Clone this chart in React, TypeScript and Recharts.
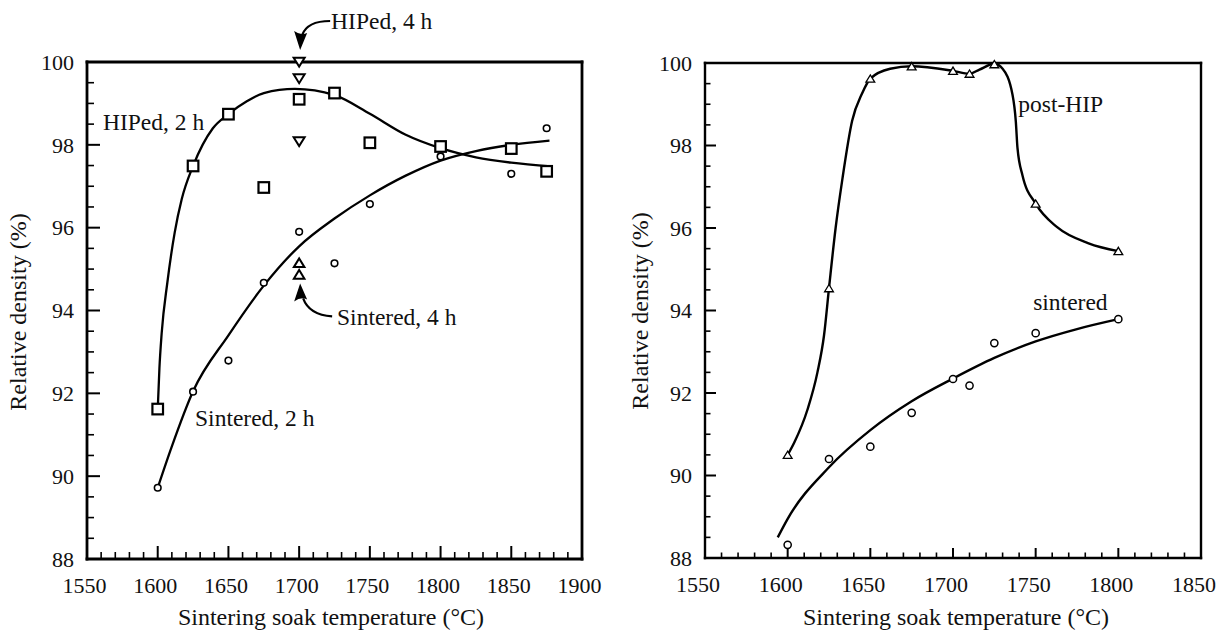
import React from "react";
import { ComposedChart, Line, Scatter, XAxis, YAxis, ReferenceDot } from "recharts";

// ---- left panel: HIPed vs sintered, 2 h and 4 h soaks ----
const leftTemps = [1600, 1625, 1650, 1675, 1700, 1725, 1750, 1800, 1850, 1875];
const hiped2h = [91.62, 97.49, 98.74, 96.97, 99.1, 99.25, 98.05, 97.96, 97.91, 97.36];
const sintered2h = [89.72, 92.04, 92.79, 94.67, 95.9, 95.14, 96.57, 97.72, 97.3, 98.4];
const hiped4hTemps = [1700, 1700, 1700];
const hiped4h = [100.0, 99.6, 98.08];
const sintered4hTemps = [1700, 1700];
const sintered4h = [95.15, 94.87];

// hand drawn guide curves
const hipedFitTemps = [1600, 1601.2, 1602.8, 1606.8, 1612, 1617, 1625, 1639, 1650, 1663, 1675, 1697, 1725, 1750, 1775, 1800, 1825, 1850, 1878];
const hipedFit = [91.6, 92.6, 93.45, 94.67, 95.88, 96.69, 97.49, 98.4, 98.74, 99.05, 99.25, 99.35, 99.2, 98.75, 98.25, 97.92, 97.7, 97.57, 97.48];
const sinteredFitTemps = [1600, 1610, 1625, 1650, 1675, 1700, 1725, 1750, 1775, 1800, 1825, 1850, 1877];
const sinteredFit = [89.72, 90.72, 92.05, 93.4, 94.6, 95.55, 96.22, 96.78, 97.25, 97.62, 97.85, 98.0, 98.1];

// ---- right panel: post-HIP vs sintered ----
const rightTemps = [1600, 1625, 1650, 1675, 1700, 1710, 1725, 1750, 1800];
const postHip = [90.5, 94.54, 99.62, 99.92, 99.81, 99.74, 99.97, 96.59, 95.44];
const sinteredR = [88.32, 90.4, 90.7, 91.52, 92.34, 92.18, 93.21, 93.45, 93.79];

const postHipFitTemps = [1600, 1604, 1612, 1618, 1622, 1625, 1629, 1633, 1639, 1645, 1650, 1662, 1675, 1700, 1710, 1716, 1725, 1730, 1736, 1738, 1739, 1742, 1750, 1763, 1782, 1800];
const postHipFit = [90.5, 90.8, 91.6, 92.5, 93.4, 94.54, 96.0, 97.16, 98.6, 99.26, 99.62, 99.86, 99.92, 99.81, 99.74, 99.84, 99.98, 99.86, 99.23, 98.58, 97.94, 97.28, 96.59, 96.02, 95.63, 95.44];
const sinteredRFitTemps = [1594, 1600, 1625, 1650, 1675, 1700, 1725, 1750, 1775, 1800];
const sinteredRFit = [88.5, 88.95, 90.2, 91.1, 91.8, 92.35, 92.85, 93.25, 93.55, 93.79];

const leftXTicks = [1550, 1600, 1650, 1700, 1750, 1800, 1850, 1900];
const rightXTicks = [1550, 1600, 1650, 1700, 1750, 1800, 1850];
const yTicks = [88, 90, 92, 94, 96, 98, 100];

const FONT = "'Liberation Serif', 'Times New Roman', serif";
const INK = "#111";

type Pt = { t: number; d: number };
const zip = (ts: number[], ds: number[]): Pt[] => ts.map((t, i) => ({ t, d: ds[i] }));

// minor ticks between the labelled ones
const fill = (major: number[], step: number) => {
  const out: number[] = [];
  const lo = major[0];
  const hi = major[major.length - 1];
  const n = Math.round((hi - lo) / step);
  for (let i = 0; i <= n; i++) out.push(Math.round((lo + i * step) * 100) / 100);
  return out;
};

type Side = "bottom" | "top" | "left" | "right";

function axisTick(side: Side, majorStep: number, majorLen: number, minorLen: number, labelGap: number, shift: number) {
  return (props: any) => {
    const { x, y, payload } = props;
    const v = payload.value as number;
    const major = Math.abs(v / majorStep - Math.round(v / majorStep)) < 1e-6;
    const len = major ? majorLen : minorLen;
    let x2 = x;
    let y2 = y;
    if (side === "bottom") y2 = y - len;
    if (side === "top") y2 = y + len;
    if (side === "left") x2 = x + len;
    if (side === "right") x2 = x - len;
    return (
      <g>
        <line x1={x} y1={y} x2={x2} y2={y2} stroke="#000" strokeWidth={major ? 2 : 1.6} />
        {major && side === "bottom" && (
          <text x={x + shift} y={y + labelGap} textAnchor="middle" fontFamily={FONT} fontSize={22} fill={INK}>
            {v}
          </text>
        )}
        {major && side === "left" && (
          <text x={x - labelGap} y={y} dy="0.35em" textAnchor="end" fontFamily={FONT} fontSize={22} fill={INK}>
            {v}
          </text>
        )}
      </g>
    );
  };
}

const Square = (p: any) => (
  <rect x={p.cx - 5.3} y={p.cy - 5.3} width={10.6} height={10.6} fill="#fff" stroke="#000" strokeWidth={2.2} />
);
const Ring = (r: number, w: number) => (p: any) => (
  <circle cx={p.cx} cy={p.cy} r={r} fill="#fff" stroke="#000" strokeWidth={w} />
);
const TriDown = (p: any) => (
  <path d={`M${p.cx - 5.5},${p.cy - 4.2}L${p.cx + 5.5},${p.cy - 4.2}L${p.cx},${p.cy + 4.6}Z`} fill="#fff" stroke="#000" strokeWidth={2} />
);
const TriUp = (s: number, w: number) => (p: any) => (
  <path d={`M${p.cx - s},${p.cy + s * 0.8}L${p.cx + s},${p.cy + s * 0.8}L${p.cx},${p.cy - s * 0.85}Z`} fill="#fff" stroke="#000" strokeWidth={w} />
);

// curved callout arrows, anchored on the data point they point at
const ArrowFromAbove = (p: any) => {
  const { cx, cy } = p;
  return (
    <g>
      <path d={`M${cx + 31},${cy - 41} C${cx + 18},${cy - 41} ${cx + 7},${cy - 38} ${cx + 3},${cy - 27}`} fill="none" stroke="#000" strokeWidth={2.2} />
      <path d={`M${cx + 1},${cy - 12} L${cx - 5},${cy - 31} Q${cx + 2},${cy - 26} ${cx + 8},${cy - 29} Z`} fill="#000" />
    </g>
  );
};
const ArrowFromBelow = (p: any) => {
  const { cx, cy } = p;
  return (
    <g>
      <path d={`M${cx + 33},${cy + 42} C${cx + 18},${cy + 41} ${cx + 8},${cy + 35} ${cx + 4},${cy + 24}`} fill="none" stroke="#000" strokeWidth={2.2} />
      <path d={`M${cx + 1},${cy + 9} L${cx - 5},${cy + 27} Q${cx + 2},${cy + 22} ${cx + 8},${cy + 25} Z`} fill="#000" />
    </g>
  );
};

const noteShape = (text: string) => (p: any) => (
  <text x={p.cx} y={p.cy} dy="0.35em" fontFamily={FONT} fontSize={23.5} fill={INK}>
    {text}
  </text>
);

type Note = { text: string; t: number; d: number };
const leftNotes: Note[] = [
  { text: "HIPed, 4 h", t: 1722.6, d: 100.99 },
  { text: "HIPed, 2 h", t: 1561.3, d: 98.56 },
  { text: "Sintered, 4 h", t: 1726.8, d: 93.85 },
  { text: "Sintered, 2 h", t: 1626.4, d: 91.4 },
];
const rightNotes: Note[] = [
  { text: "post-HIP", t: 1739.5, d: 99.02 },
  { text: "sintered", t: 1748.5, d: 94.22 },
];

function frame(xDomain: [number, number], xTicks: number[], minorLen: number, majorLen: number, yMajorLen: number, axisWidth: number, shift: number) {
  const xAll = fill(xTicks, 10);
  const yAll = fill(yTicks, 0.5);
  const axisLine = { stroke: "#000", strokeWidth: axisWidth, strokeLinecap: "square" as const };
  return [
    <XAxis key="xb" xAxisId={0} dataKey="t" type="number" domain={xDomain} ticks={xAll} interval={0} height={1} tickSize={0} tickMargin={0} tickLine={false} axisLine={axisLine} tick={axisTick("bottom", 50, majorLen, minorLen, 34, shift)} />,
    <XAxis key="xt" xAxisId="top" orientation="top" dataKey="t" type="number" domain={xDomain} ticks={xAll} interval={0} height={1} tickSize={0} tickMargin={0} tickLine={false} axisLine={axisLine} tick={axisTick("top", 50, majorLen, minorLen, 0, 0)} />,
    <YAxis key="yl" yAxisId={0} type="number" domain={[88, 100]} ticks={yAll} interval={0} width={1} tickSize={0} tickMargin={0} tickLine={false} axisLine={axisLine} tick={axisTick("left", 2, yMajorLen, minorLen, 13, 0)} />,
    <YAxis key="yr" yAxisId="right" orientation="right" type="number" domain={[88, 100]} ticks={yAll} interval={0} width={1} tickSize={0} tickMargin={0} tickLine={false} axisLine={axisLine} tick={axisTick("right", 2, yMajorLen, minorLen, 0, 0)} />,
  ];
}

function LeftPanel() {
  return (
    <ComposedChart width={620} height={633} margin={{ top: 61, right: 37, bottom: 73, left: 86 }}>
      {frame([1550, 1900], leftXTicks, 7, 13, 13, 2.8, -2.5)}
      <Line data={zip(hipedFitTemps, hipedFit)} dataKey="d" type="monotone" stroke="#000" strokeWidth={2.3} dot={false} isAnimationActive={false} />
      <Line data={zip(sinteredFitTemps, sinteredFit)} dataKey="d" type="monotone" stroke="#000" strokeWidth={2.3} dot={false} isAnimationActive={false} />
      <Scatter data={zip(leftTemps, hiped2h)} dataKey="d" shape={Square} isAnimationActive={false} />
      <Scatter data={zip(leftTemps, sintered2h)} dataKey="d" shape={Ring(3.3, 1.6)} isAnimationActive={false} />
      <Scatter data={zip(hiped4hTemps, hiped4h)} dataKey="d" shape={TriDown} isAnimationActive={false} />
      <Scatter data={zip(sintered4hTemps, sintered4h)} dataKey="d" shape={TriUp(5.3, 2)} isAnimationActive={false} />
      <ReferenceDot x={hiped4hTemps[0]} y={hiped4h[0]} ifOverflow="visible" shape={ArrowFromAbove} />
      <ReferenceDot x={sintered4hTemps[1]} y={sintered4h[1]} ifOverflow="visible" shape={ArrowFromBelow} />
      {leftNotes.map((n) => (
        <ReferenceDot key={n.text} x={n.t} y={n.d} ifOverflow="visible" shape={noteShape(n.text)} />
      ))}
    </ComposedChart>
  );
}

function RightPanel() {
  return (
    <ComposedChart width={599} height={633} margin={{ top: 62, right: 17, bottom: 74, left: 84 }}>
      {frame([1550, 1850], rightXTicks, 5.5, 10, 11, 2.4, -7)}
      <Line data={zip(postHipFitTemps, postHipFit)} dataKey="d" type="monotone" stroke="#000" strokeWidth={2.4} dot={false} isAnimationActive={false} />
      <Line data={zip(sinteredRFitTemps, sinteredRFit)} dataKey="d" type="monotone" stroke="#000" strokeWidth={2.4} dot={false} isAnimationActive={false} />
      <Scatter data={zip(rightTemps, postHip)} dataKey="d" shape={TriUp(4.4, 1.3)} isAnimationActive={false} />
      <Scatter data={zip(rightTemps, sinteredR)} dataKey="d" shape={Ring(3.6, 1.5)} isAnimationActive={false} />
      {rightNotes.map((n) => (
        <ReferenceDot key={n.text} x={n.t} y={n.d} ifOverflow="visible" shape={noteShape(n.text)} />
      ))}
    </ComposedChart>
  );
}

export default function App() {
  const title = { fontFamily: FONT, fontSize: 24, fill: INK };
  return (
    <div style={{ position: "absolute", left: 0, top: 0, width: 1219, height: 633, background: "#fff", overflow: "hidden" }}>
      <div style={{ position: "absolute", left: 0, top: 0 }}>
        <LeftPanel />
      </div>
      <div style={{ position: "absolute", left: 620, top: 0 }}>
        <RightPanel />
      </div>
      <svg width={1219} height={633} style={{ position: "absolute", left: 0, top: 0, pointerEvents: "none" }}>
        <text x={331} y={625} textAnchor="middle" {...title}>Sintering soak temperature (°C)</text>
        <text x={956} y={625} textAnchor="middle" {...title}>Sintering soak temperature (°C)</text>
        <text transform="translate(25.5,312) rotate(-90)" textAnchor="middle" {...title}>Relative density (%)</text>
        <text transform="translate(647.5,311) rotate(-90)" textAnchor="middle" {...title}>Relative density (%)</text>
      </svg>
    </div>
  );
}
